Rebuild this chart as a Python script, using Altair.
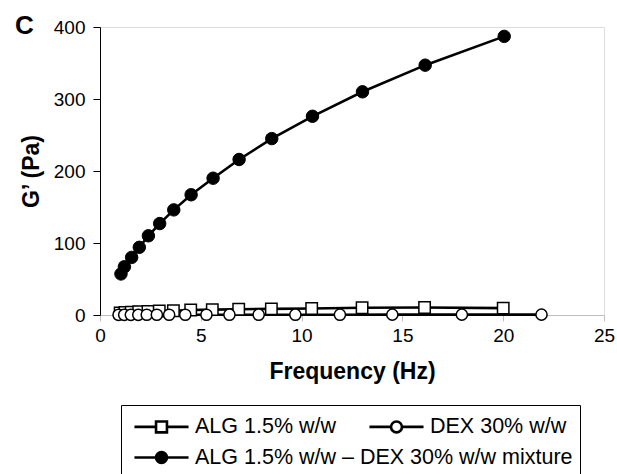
import altair as alt
import pandas as pd

# ---- data ----
freq_alg = [1.0, 1.24, 1.55, 1.92, 2.38, 2.94, 3.64, 4.5, 5.57, 6.88, 8.5, 10.5, 13.0, 16.1, 20.0]
g_alg = [3, 3.5, 4, 4.5, 5, 5.5, 6, 7, 7.5, 8, 8.5, 9, 10, 10.5, 9.5]

freq_dex = [0.92, 1.2, 1.53, 1.9, 2.32, 2.82, 3.43, 4.23, 5.28, 6.42, 7.87, 9.69, 11.9, 14.5, 17.95, 21.9]
g_dex = [0.2, 0.2, 0.2, 0.2, 0.3, 0.3, 0.3, 0.3, 0.3, 0.4, 0.4, 0.4, 0.4, 0.5, 0.5, 0.5]

freq_mix = [1.04, 1.21, 1.57, 1.95, 2.40, 2.96, 3.66, 4.52, 5.61, 6.90, 8.52, 10.54, 13.02, 16.13, 20.05]
g_mix = [57, 67, 80, 94, 110, 127, 146, 167, 190, 216, 245, 276, 310, 347, 387]

series_names = ["ALG 1.5% w/w", "DEX 30% w/w", "ALG 1.5% w/w \u2013 DEX 30% w/w mixture"]

rows = []
for f, g in zip(freq_alg, g_alg):
    rows.append({"freq": f, "g": g, "series": series_names[0]})
for f, g in zip(freq_dex, g_dex):
    rows.append({"freq": f, "g": g, "series": series_names[1]})
for f, g in zip(freq_mix, g_mix):
    rows.append({"freq": f, "g": g, "series": series_names[2]})
df = pd.DataFrame(rows)

FONT = "Liberation Sans"

x_enc = alt.X("freq:Q", scale=alt.Scale(domain=[0, 25], nice=False, zero=False),
              axis=alt.Axis(title="Frequency (Hz)", values=[0, 5, 10, 15, 20, 25],
                            grid=False, domainColor="#bfbfbf", tickColor="#bfbfbf",
                            tickSize=6, labelPadding=5, labelFontSize=19,
                            titleFontSize=23, titleFontWeight="bold", titlePadding=15,
                            labelColor="black", titleColor="black", labelFont=FONT, titleFont=FONT,
                            labelFlush=False))
y_enc = alt.Y("g:Q", scale=alt.Scale(domain=[0, 400], nice=False),
              axis=alt.Axis(title="G\u2019 (Pa)", values=[0, 100, 200, 300, 400],
                            grid=False, domainColor="black", tickColor="black",
                            tickSize=7, labelPadding=8, labelFontSize=19,
                            titleFontSize=23, titleFontWeight="bold", titlePadding=10,
                            labelColor="black", titleColor="black", labelFont=FONT, titleFont=FONT))

base = alt.Chart(df)

lines = base.mark_line(color="black", strokeWidth=2.6).encode(
    x=x_enc, y=y_enc, detail="series:N", order="freq:Q")

pts_alg = base.transform_filter(alt.datum.series == series_names[0]).mark_point(
    shape="square", filled=True, fill="white", stroke="black", strokeWidth=1.5,
    size=130, opacity=1).encode(x=x_enc, y=y_enc)
pts_dex = base.transform_filter(alt.datum.series == series_names[1]).mark_point(
    shape="circle", filled=True, fill="white", stroke="black", strokeWidth=1.5,
    size=125, opacity=1).encode(x=x_enc, y=y_enc)
pts_mix = base.transform_filter(alt.datum.series == series_names[2]).mark_point(
    shape="circle", filled=True, fill="black", stroke="black", strokeWidth=1,
    size=155, opacity=1).encode(x=x_enc, y=y_enc)

# legend symbols: line with a marker in the middle (unit = 13 px)
sq_path = "M-2.08,0H-0.42M0.42,0H2.08M-0.42,-0.42H0.42V0.42H-0.42Z"
ci_path = "M-2.08,0H-0.42M0.42,0H2.08M-0.42,0A0.42,0.42,0,1,0,0.42,0A0.42,0.42,0,1,0,-0.42,0Z"
cf_path = "M-2.08,0H2.08M-0.42,0A0.42,0.42,0,1,0,0.42,0A0.42,0.42,0,1,0,-0.42,0Z"
blank_path = "M0,0"

LEG_FS = 21.5
common = dict(title=None, orient="none", legendX=21, legendY=378,
              padding=7, labelFontSize=LEG_FS, labelFont=FONT, labelColor="black",
              symbolSize=676, symbolOffset=19, labelOffset=19, labelLimit=1000,
              symbolStrokeWidth=2.6, symbolOpacity=1)

legend_a = alt.Legend(direction="horizontal", columnPadding=27,
                      strokeColor="transparent", **common)
legend_b = alt.Legend(direction="vertical", rowPadding=6,
                      strokeColor="black", **common)

leg_a_layer = base.transform_filter("false").mark_point(
    filled=True, fill="white", stroke="black", strokeWidth=2.6, opacity=1).encode(
    x=x_enc, y=y_enc,
    shape=alt.Shape("series:N", scale=alt.Scale(domain=series_names[:2], range=[sq_path, ci_path]),
                    legend=legend_a))

leg_b_layer = base.transform_filter("false").mark_point(
    filled=True, fill="black", stroke="black", strokeWidth=2.6, opacity=1).encode(
    x=x_enc, y=y_enc,
    shape=alt.Shape("series2:N", scale=alt.Scale(domain=[" ", series_names[2]], range=[blank_path, cf_path]),
                    legend=legend_b))

chart = alt.layer(lines, pts_alg, pts_dex, pts_mix, leg_b_layer, leg_a_layer).resolve_scale(
    shape="independent"
).properties(
    width=504, height=288,
    autosize=alt.AutoSizeParams(type="none"),
    padding={"left": 100, "top": 27, "right": 13, "bottom": 159},
    title=alt.TitleParams("C", anchor="start", frame="group", dx=-85, dy=25,
                          fontSize=26, fontWeight="bold", font=FONT, color="black"),
).configure_view(stroke=None).configure(background="white")

chart.save("out.html", embed_options={"renderer": "svg", "actions": False})
